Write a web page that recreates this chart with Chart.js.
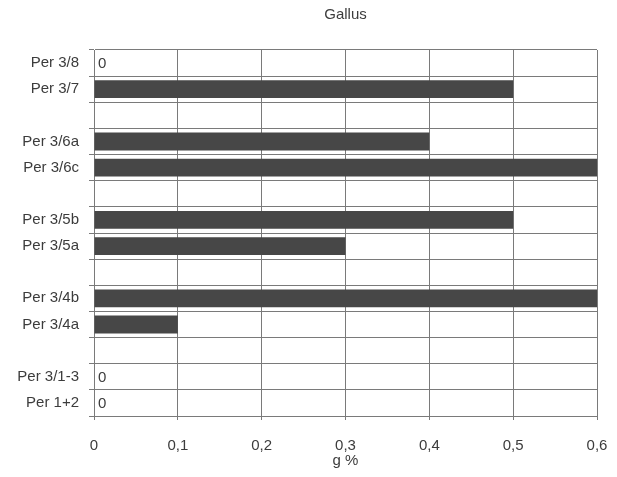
<!DOCTYPE html>
<html>
<head>
<meta charset="utf-8">
<script src="https://cdn.jsdelivr.net/npm/chart.js@4.4.1/dist/chart.umd.min.js"></script>
<style>
  body { margin: 0; background: #fff; }
</style>
</head>
<body>
<canvas id="gallus-chart" width="617" height="477"></canvas>
<script>
// rows top to bottom, blank rows are the gaps between groups
const rowLabels = ['Per 3/8', 'Per 3/7', '', 'Per 3/6a', 'Per 3/6c', '', 'Per 3/5b', 'Per 3/5a', '', 'Per 3/4b', 'Per 3/4a', '', 'Per 3/1-3', 'Per 1+2'];
const gPercent = [0, 0.5, null, 0.4, 0.6, null, 0.5, 0.3, null, 0.6, 0.1, null, 0, 0];
const xTicks = [0, 0.1, 0.2, 0.3, 0.4, 0.5, 0.6];

const textColor = '#3c3c3c';
const gridColor = '#7a7a7a';
const fontFamily = '"Liberation Sans", Arial, sans-serif';

// writes "0" in rows whose value is zero
const zeroLabels = {
    id: 'zeroLabels',
    afterDatasetsDraw: function (chart) {
        const ctx = chart.ctx;
        const xs = chart.scales.x;
        const ys = chart.scales.y;
        ctx.save();
        ctx.font = '15px ' + fontFamily;
        ctx.fillStyle = textColor;
        ctx.textBaseline = 'middle';
        ctx.textAlign = 'left';
        gPercent.forEach(function (v, i) {
            if (v === 0) {
                ctx.fillText('0', xs.getPixelForValue(0) + 4, ys.getPixelForValue(i) + 1);
            }
        });
        ctx.restore();
    }
};

new Chart(document.getElementById('gallus-chart'), {
    type: 'bar',
    data: {
        labels: rowLabels,
        datasets: [{
            data: gPercent,
            backgroundColor: '#474747',
            borderWidth: 0,
            barPercentage: 0.68,
            categoryPercentage: 1.0
        }]
    },
    options: {
        indexAxis: 'y',
        responsive: false,
        animation: false,
        layout: { padding: { left: 0, right: 20, top: 0, bottom: 0 } },
        plugins: {
            legend: { display: false },
            tooltip: { enabled: false },
            title: {
                display: true,
                text: 'Gallus',
                fullSize: false,
                color: textColor,
                font: { family: fontFamily, size: 15, weight: 'normal' },
                padding: { top: 6, bottom: 26 }
            }
        },
        scales: {
            x: {
                min: 0,
                max: 0.6,
                afterBuildTicks: function (scale) {
                    scale.ticks = xTicks.map(function (v) { return { value: v }; });
                },
                afterFit: function (scale) {
                    scale.height = 61;
                    scale.paddingLeft = 0;
                    scale.paddingRight = 0;
                },
                border: { color: gridColor, width: 1 },
                grid: { color: gridColor, lineWidth: 1, tickLength: 4 },
                ticks: {
                    color: textColor,
                    padding: 17,
                    maxRotation: 0,
                    font: { family: fontFamily, size: 15 },
                    callback: function (v) { return String(Math.round(v * 10) / 10).replace('.', ','); }
                },
                title: {
                    display: true,
                    text: 'g %',
                    color: textColor,
                    font: { family: fontFamily, size: 15 },
                    padding: { top: 0, bottom: 7 }
                }
            },
            y: {
                afterFit: function (scale) { scale.width = 94; },
                border: { color: gridColor, width: 1 },
                grid: { color: gridColor, lineWidth: 1, tickLength: 5, offset: true },
                ticks: {
                    color: textColor,
                    padding: 10,
                    autoSkip: false,
                    font: { family: fontFamily, size: 15 }
                }
            }
        }
    },
    plugins: [zeroLabels]
});
</script>
</body>
</html>
